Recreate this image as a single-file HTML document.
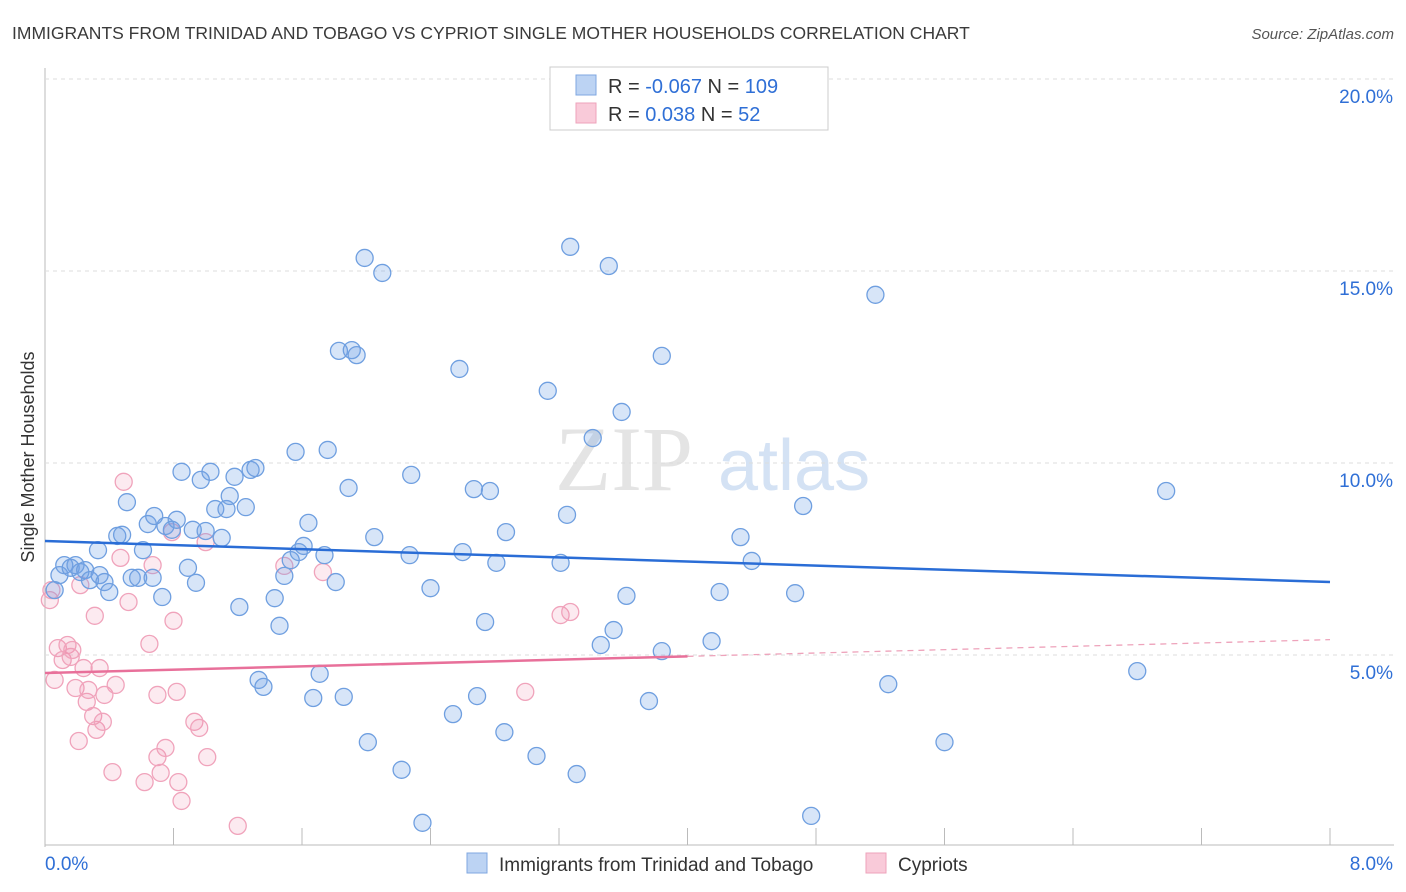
<!DOCTYPE html>
<html><head><meta charset="utf-8"><style>
body{margin:0;background:#fff;font-family:"Liberation Sans",sans-serif;}
svg{display:block}
</style></head><body>
<svg id="c" width="1406" height="892">
<text x="12" y="39" font-size="17.5" fill="#3a3a3a">IMMIGRANTS FROM TRINIDAD AND TOBAGO VS CYPRIOT SINGLE MOTHER HOUSEHOLDS CORRELATION CHART</text>
<text x="1394" y="39" font-size="15" fill="#555" font-style="italic" text-anchor="end">Source: ZipAtlas.com</text>
<g><text x="555" y="490" font-size="92" font-family="Liberation Serif,serif" fill="#e4e4e4">ZIP</text><text x="718" y="490" font-size="72" fill="#d4e2f4">atlas</text></g>
<text transform="translate(34,457) rotate(-90)" font-size="18" fill="#333" text-anchor="middle">Single Mother Households</text>
<g id="grid"></g><g id="pts"></g><g id="lines"></g>
<g>
<rect x="550" y="67" width="278" height="63" fill="#fff" stroke="#ccc"/>
<rect x="576" y="75" width="20" height="20" fill="#bcd3f3" stroke="#7fa7e0"/>
<rect x="576" y="103" width="20" height="20" fill="#f9cad9" stroke="#eea3bb"/>
<text x="608" y="93" font-size="20" fill="#333">R = <tspan fill="#2f6fd6">-0.067</tspan>   N = <tspan fill="#2f6fd6">109</tspan></text>
<text x="608" y="121" font-size="20" fill="#333">R =  <tspan fill="#2f6fd6"> 0.038</tspan>   N =  <tspan fill="#2f6fd6"> 52</tspan></text>
</g>
<g>
<rect x="467" y="853" width="20" height="20" fill="#bcd3f3" stroke="#7fa7e0"/>
<text x="499" y="871" font-size="19" fill="#333">Immigrants from Trinidad and Tobago</text>
<rect x="866" y="853" width="20" height="20" fill="#f9cad9" stroke="#eea3bb"/>
<text x="898" y="871" font-size="19" fill="#333">Cypriots</text>
</g>
</svg>
<script>
const blueX=[0.06,0.09,0.12,0.16,0.19,0.22,0.25,0.28,0.33,0.34,0.37,0.40,0.45,0.48,0.51,0.54,0.58,0.61,0.64,0.67,0.68,0.73,0.75,0.79,0.82,0.85,0.89,0.92,0.94,0.97,1.00,1.03,1.06,1.10,1.13,1.15,1.18,1.21,1.25,1.28,1.31,1.33,1.36,1.43,1.46,1.49,1.53,1.56,1.58,1.61,1.64,1.67,1.71,1.74,1.76,1.81,1.83,1.86,1.89,1.91,1.94,1.99,2.01,2.05,2.10,2.22,2.27,2.28,2.35,2.40,2.54,2.58,2.60,2.67,2.69,2.74,2.77,2.81,2.86,2.87,3.06,3.13,3.21,3.25,3.27,3.31,3.41,3.46,3.51,3.54,3.59,3.62,3.76,3.84,3.84,4.15,4.20,4.33,4.40,4.67,4.72,4.77,5.17,5.25,5.60,6.80,6.98];
const blueY=[6.69,7.08,7.34,7.27,7.34,7.16,7.21,6.95,7.73,7.08,6.90,6.64,8.10,8.13,8.98,7.01,7.01,7.73,8.41,7.01,8.62,6.51,8.36,8.26,8.52,9.77,7.27,8.26,6.88,9.56,8.23,9.77,8.80,8.05,8.80,9.14,9.64,6.25,8.85,9.82,9.87,4.35,4.17,6.48,5.76,7.06,7.47,10.29,7.68,7.84,8.44,3.88,4.51,7.60,10.34,6.90,12.92,3.91,9.35,12.94,12.81,15.34,2.73,8.07,14.95,2.01,7.60,9.69,0.63,6.74,3.46,12.45,7.68,9.32,3.93,5.86,9.27,7.40,2.99,8.20,2.37,11.88,7.40,8.65,15.63,1.90,10.65,5.26,15.13,5.65,11.33,6.54,3.80,5.10,12.79,5.36,6.64,8.07,7.45,6.61,8.88,0.81,14.38,4.24,2.73,4.58,9.27];
const pinkX=[0.03,0.04,0.06,0.08,0.11,0.14,0.16,0.17,0.19,0.21,0.22,0.24,0.26,0.27,0.30,0.31,0.32,0.34,0.36,0.37,0.42,0.44,0.47,0.49,0.52,0.62,0.65,0.67,0.70,0.70,0.72,0.75,0.79,0.80,0.82,0.83,0.85,0.93,0.96,1.00,1.01,1.20,1.49,1.73,2.99,3.21,3.27];
const pinkY=[6.43,6.69,4.35,5.18,4.87,5.26,4.95,5.13,4.14,2.76,6.82,4.66,3.78,4.09,3.41,6.02,3.05,4.66,3.26,3.96,1.95,4.22,7.53,9.51,6.38,1.69,5.29,7.34,2.34,3.96,1.93,2.58,8.20,5.89,4.04,1.69,1.20,3.26,3.10,7.94,2.34,0.55,7.32,7.16,4.04,6.04,6.12];
const blueTrend=[7.97,6.90];
const pinkTrend=[4.53,5.40];
const pinkSolidEnd=4.0;
const yTicks=[5,10,15,20];
const xTickCount=10;
const X0=45,X1=1330,XMAX=8,Y0=847,PPY=38.4;
const sx=v=>X0+(v/XMAX)*(X1-X0), sy=v=>Y0-v*PPY;
const NS="http://www.w3.org/2000/svg";
function mk(p,t,a){const e=document.createElementNS(NS,t);for(const k in a)e.setAttribute(k,a[k]);p.appendChild(e);return e;}
const g=document.getElementById('grid');
let ax=mk(g,'line',{x1:X0,y1:68,x2:X0,y2:847,stroke:'#bbb'});


let bx=mk(g,'line',{x1:X0,y1:845,x2:1394,y2:845,stroke:'#bbb'});


yTicks.forEach(v=>{
 const l=mk(g,'line',{x1:X0,y1:sy(v),x2:1394,y2:sy(v),stroke:'#ddd','stroke-dasharray':'4,4'});
 
 
 const t=mk(g,'text',{x:1393,y:sy(v)+24,'font-size':19,fill:'#2f6fd6','text-anchor':'end'});
 t.textContent=v.toFixed(1)+'%';
 
 
});
for(let i=1;i<=xTickCount;i++){
 const x=sx(i*XMAX/xTickCount);
 const l=mk(g,'line',{x1:x,y1:828,x2:x,y2:845,stroke:'#bbb'});
 
 
}
let t0=mk(g,'text',{x:45,y:870,'font-size':19,fill:'#2f6fd6'});t0.textContent='0.0%';


let t1=mk(g,'text',{x:1393,y:870,'font-size':19,fill:'#2f6fd6','text-anchor':'end'});t1.textContent='8.0%';


const P=document.getElementById('pts');
pinkX.forEach((v,i)=>{
 const c=mk(P,'circle',{cx:sx(v),cy:sy(pinkY[i]),r:8.5,fill:'rgba(240,140,170,0.18)',stroke:'#f0a3bb','stroke-width':1.3});
 
 
});
blueX.forEach((v,i)=>{
 const c=mk(P,'circle',{cx:sx(v),cy:sy(blueY[i]),r:8.5,fill:'rgba(110,160,230,0.28)',stroke:'#6f9fe0','stroke-width':1.3});
 
 
});
const L=document.getElementById('lines');
let bl=mk(L,'line',{x1:sx(0),y1:sy(blueTrend[0]),x2:sx(XMAX),y2:sy(blueTrend[1]),stroke:'#2a6dd6','stroke-width':2.5});


const py=x=>pinkTrend[0]+(pinkTrend[1]-pinkTrend[0])*x/XMAX;
let pl=mk(L,'line',{x1:sx(0),y1:sy(py(0)),x2:sx(pinkSolidEnd),y2:sy(py(pinkSolidEnd)),stroke:'#e8709a','stroke-width':2.5});


let pd=mk(L,'line',{x1:sx(pinkSolidEnd),y1:sy(py(pinkSolidEnd)),x2:sx(XMAX),y2:sy(py(XMAX)),stroke:'#eea3bb','stroke-width':1.3,'stroke-dasharray':'6,5'});


</script>
</body></html>
